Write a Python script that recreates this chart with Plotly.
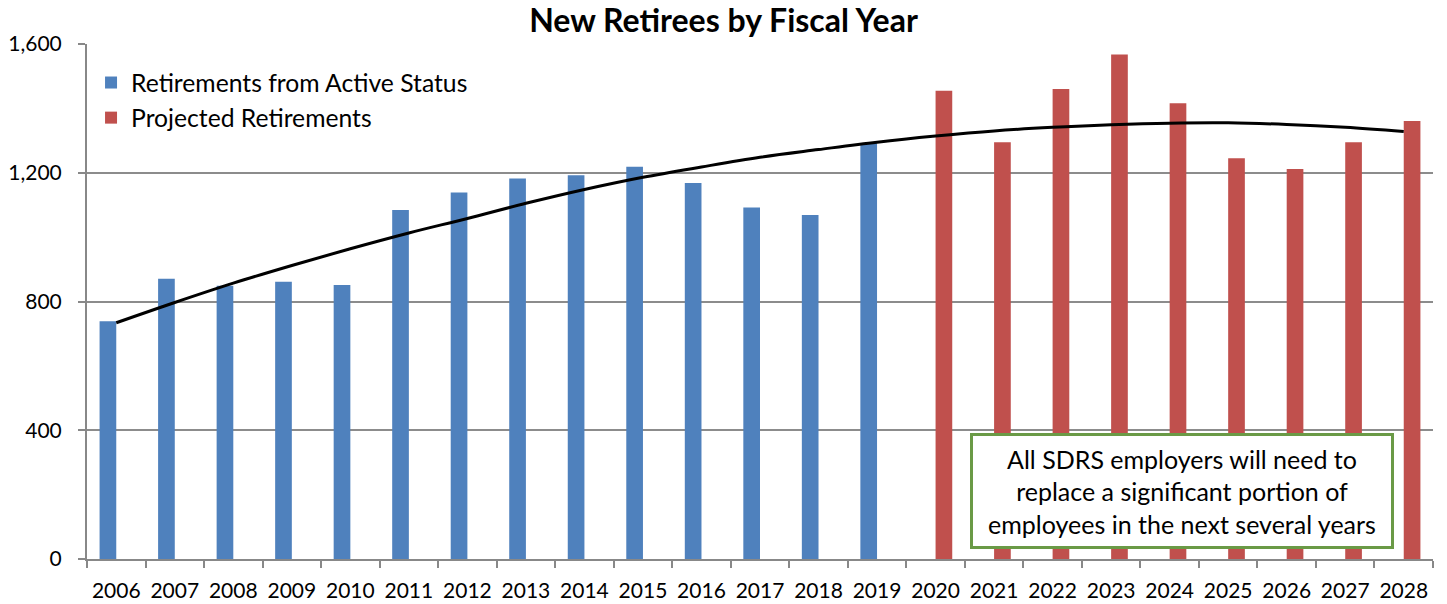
import plotly.graph_objects as go

years = [str(y) for y in range(2006, 2029)]
active = [739, 871, 849, 861, 851, 1084, 1139, 1182, 1192, 1219, 1168, 1092, 1069, 1292,
          None, None, None, None, None, None, None, None, None]
projected = [None] * 14 + [1455, 1295, 1460, 1567, 1416, 1245, 1212, 1295, 1361]
trend = [734, 797, 857, 912, 964, 1013, 1058, 1105, 1148, 1186, 1218, 1248, 1272,
         1295, 1314, 1330, 1341, 1349, 1354, 1355, 1350, 1341, 1328]
y_ticks = [0, 400, 800, 1200, 1600]
note = "All SDRS employers will need to<br>replace a significant portion of<br>employees in the next several years"

FONT = "Lato"
fig = go.Figure()
fig.add_trace(go.Bar(x=years, y=active, name="Retirements from Active Status",
                     marker=dict(color="#4F81BD", line=dict(width=0))))
fig.add_trace(go.Bar(x=years, y=projected, name="Projected Retirements",
                     marker=dict(color="#C0504D", line=dict(width=0))))
fig.add_trace(go.Scatter(x=years, y=trend, mode="lines", line=dict(color="black", width=3, shape="spline"),
                         showlegend=False, hoverinfo="skip"))

fig.update_layout(
    width=1447, height=604,
    margin=dict(l=87, r=14, t=44, b=45),
    paper_bgcolor="white", plot_bgcolor="white",
    barmode="group", bargap=0.43, bargroupgap=0,
    font=dict(family=FONT, size=21, color="black"),
    title=dict(text="<b>New Retirees by Fiscal Year</b>", x=0.5, xanchor="center",
               y=1 - 20.5 / 604, yanchor="middle", yref="container",
               font=dict(family=FONT, size=32, color="black")),
    legend=dict(x=0.003, y=0.969, xanchor="left", yanchor="top", bgcolor="rgba(0,0,0,0)",
                font=dict(family=FONT, size=24.7), itemwidth=30, tracegroupgap=0),
    xaxis=dict(type="category", showline=True, linecolor="#888888", linewidth=2, automargin=False,
               ticks="outside", tickson="boundaries", ticklen=7, tickcolor="#888888", tickwidth=2,
               tickangle=0, ticklabelstandoff=12,
               tickfont=dict(family=FONT, size=21), showgrid=False),
    yaxis=dict(range=[0, 1600], tickvals=y_ticks, tickformat=",", showline=True, linecolor="#888888",
               linewidth=2, ticks="outside", ticklen=7, tickcolor="#888888", tickwidth=2, automargin=False,
               ticklabelstandoff=12,
               showgrid=True, gridcolor="#8c8c8c", gridwidth=2, zeroline=False,
               tickfont=dict(family=FONT, size=21)),
    annotations=[dict(text=note, xref="paper", yref="paper", x=0.8135, y=0.133,
                      xanchor="center", yanchor="middle", showarrow=False, align="center",
                      font=dict(family=FONT, size=25, color="black"),
                      bgcolor="white", bordercolor="#6A9A46", borderwidth=3,
                      width=416, height=108, borderpad=1)],
)

fig.write_html("out.html", config={"displayModeBar": False},
               post_script="document.body.style.margin='0';")
